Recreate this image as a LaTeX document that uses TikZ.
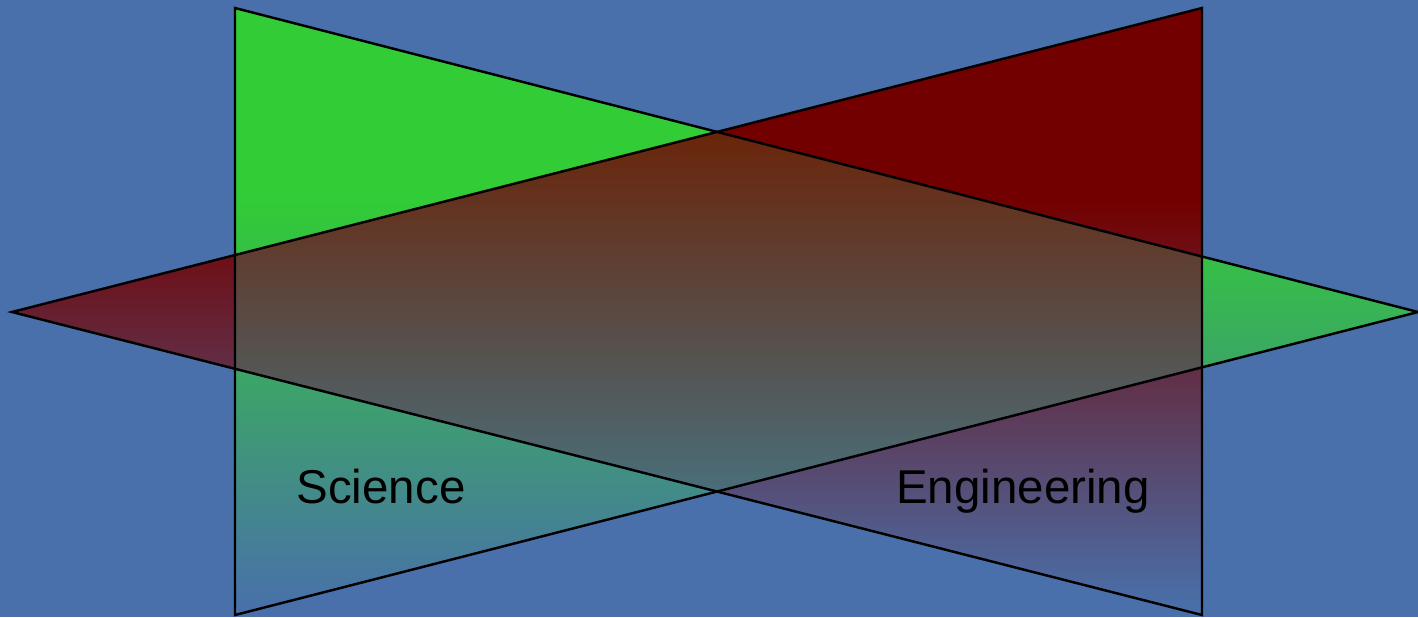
\documentclass[tikz,border=0pt]{standalone}
\usepackage{fontspec}
\setmainfont{Liberation Sans}
\definecolor{bgblue}{RGB}{73,112,170}
\definecolor{sgreen}{RGB}{50,204,54}
\definecolor{ered}{RGB}{115,0,0}
\definecolor{mixtop}{RGB}{106,37,10}
\definecolor{mixmid}{RGB}{92,72,28}
\definecolor{mixbot}{RGB}{74,110,122}
\tikzset{venn/.style={x=0.01cm,y=-0.01cm,font=\fontsize{13.5}{16}\selectfont},
  edge/.style={draw=black,line width=0.7pt,line join=miter}}
% solid colour on top, fading into the background from y=200 down to y=610
\newcommand\fadelayer[1]{%
  \fill[#1] (0,0) rectangle (1418,201);
  \shade[top color=#1,bottom color=bgblue] (0,200) rectangle (1418,610);
  \fill[bgblue] (0,609) rectangle (1418,617);}

\begin{document}
\begin{tikzpicture}[venn]
    \fill[bgblue] (0,0) rectangle (1418,617);
    \useasboundingbox (0,0) rectangle (1418,617);
    % science triangle (points right), engineering triangle (points left)
    \coordinate (gtop) at (235,8);
    \coordinate (gbot) at (235,615);
    \coordinate (gtip) at (1418,312);
    \coordinate (rtop) at (1202,8);
    \coordinate (rbot) at (1202,615);
    \coordinate (rtip) at (12,312);
    \begin{scope}
      \clip (gtop) -- (gtip) -- (gbot) -- cycle;
      \fadelayer{sgreen}
    \end{scope}
    \begin{scope}
      \clip (rtop) -- (rbot) -- (rtip) -- cycle;
      \fadelayer{ered}
    \end{scope}
    % overlap of the two
    \begin{scope}
      \clip (rtop) -- (rbot) -- (rtip) -- cycle;
      \clip (gtop) -- (gtip) -- (gbot) -- cycle;
      \shade[top color=mixtop,middle color=mixmid,bottom color=mixbot] (235,132) rectangle (1202,492);
    \end{scope}
    \draw[edge] (gtop) -- (gtip) -- (gbot) -- cycle;
    \draw[edge] (rtop) -- (rbot) -- (rtip) -- cycle;
    \node[anchor=base] (science) at (381,503) {Science};
    \node[anchor=base] (engineering) at (1023,503) {Engineering};
\end{tikzpicture}
\end{document}
